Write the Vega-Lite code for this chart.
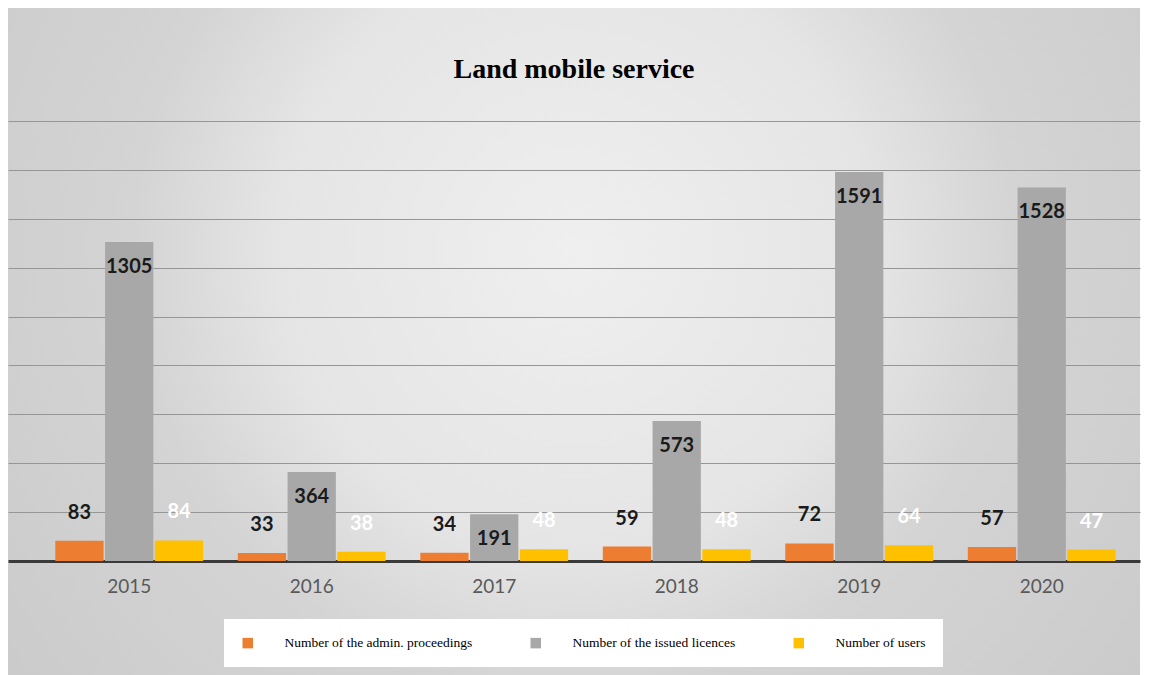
{
  "$schema": "https://vega.github.io/schema/vega-lite/v6.json",
  "width": 1132,
  "height": 667,
  "autosize": {"type": "none"},
  "padding": {"left": 8, "top": 8, "right": 9, "bottom": 0},
  "background": "#ffffff",
  "view": {
    "stroke": null,
    "fill": {
      "gradient": "radial",
      "x1": 0.5, "y1": 0.42, "r1": 0,
      "x2": 0.5, "y2": 0.42, "r2": 0.75,
      "stops": [
        {"offset": 0, "color": "#efefef"},
        {"offset": 0.35, "color": "#e5e5e5"},
        {"offset": 0.52, "color": "#d4d4d4"},
        {"offset": 1, "color": "#c6c6c6"}
      ]
    }
  },
  "title": {
    "text": "Land mobile service",
    "font": "Liberation Serif",
    "fontSize": 28,
    "fontWeight": "bold",
    "color": "#000000",
    "anchor": "middle",
    "offset": -76
  },
  "data": {
    "values": [
      {"year": "2015", "series": "Number of the admin. proceedings", "value": 83},
      {"year": "2015", "series": "Number of the issued licences", "value": 1305},
      {"year": "2015", "series": "Number of users", "value": 84},
      {"year": "2016", "series": "Number of the admin. proceedings", "value": 33},
      {"year": "2016", "series": "Number of the issued licences", "value": 364},
      {"year": "2016", "series": "Number of users", "value": 38},
      {"year": "2017", "series": "Number of the admin. proceedings", "value": 34},
      {"year": "2017", "series": "Number of the issued licences", "value": 191},
      {"year": "2017", "series": "Number of users", "value": 48},
      {"year": "2018", "series": "Number of the admin. proceedings", "value": 59},
      {"year": "2018", "series": "Number of the issued licences", "value": 573},
      {"year": "2018", "series": "Number of users", "value": 48},
      {"year": "2019", "series": "Number of the admin. proceedings", "value": 72},
      {"year": "2019", "series": "Number of the issued licences", "value": 1591},
      {"year": "2019", "series": "Number of users", "value": 64},
      {"year": "2020", "series": "Number of the admin. proceedings", "value": 57},
      {"year": "2020", "series": "Number of the issued licences", "value": 1528},
      {"year": "2020", "series": "Number of users", "value": 47}
    ]
  },
  "encoding": {
    "x": {
      "field": "year",
      "type": "nominal",
      "scale": {"paddingInner": 0.19, "paddingOuter": 0.1963, "align": 0.66},
      "axis": {
        "title": null,
        "orient": "bottom",
        "offset": -114,
        "labelAngle": 0,
        "ticks": false,
        "grid": false,
        "domainColor": "#3a3a3a",
        "domainWidth": 3,
        "labelFont": "Lato",
        "labelFontSize": 19,
        "labelColor": "#595959",
        "labelPadding": 16
      }
    },
    "xOffset": {
      "field": "series",
      "type": "nominal",
      "scale": {
        "domain": ["Number of the admin. proceedings", "Number of the issued licences", "Number of users"],
        "paddingInner": 0.03,
        "paddingOuter": 0
      }
    },
    "y": {
      "field": "value",
      "type": "quantitative",
      "stack": null,
      "scale": {"domain": [-466.4, 2262.3], "nice": false, "zero": false},
      "axis": {
        "title": null,
        "values": [200, 400, 600, 800, 1000, 1200, 1400, 1600, 1800],
        "grid": true,
        "labels": false,
        "ticks": false,
        "domain": false,
        "gridColor": "#969696",
        "gridWidth": 1
      }
    }
  },
  "layer": [
    {
      "mark": {"type": "bar"},
      "encoding": {
        "color": {
          "field": "series",
          "type": "nominal",
          "scale": {
            "domain": ["Number of the admin. proceedings", "Number of the issued licences", "Number of users"],
            "range": ["#ED7D31", "#A8A8A8", "#FFC000"]
          },
          "legend": {
            "orient": "none",
            "legendX": 216,
            "legendY": 611,
            "direction": "horizontal",
            "title": null,
            "fillColor": "#ffffff",
            "padding": 17,
            "symbolType": "square",
            "symbolSize": 110,
            "symbolStrokeWidth": 0,
            "labelFont": "Liberation Serif",
            "labelFontSize": 13.5,
            "labelColor": "#000000",
            "labelOffset": 30,
            "columnPadding": 56,
            "labelLimit": 400
          }
        }
      }
    },
    {
      "transform": [{"filter": "datum.series === 'Number of the issued licences'"}],
      "mark": {"type": "text", "dy": 25, "font": "Lato", "fontSize": 20, "fontWeight": "bold", "color": "#1a1a1a"},
      "encoding": {"text": {"field": "value", "type": "quantitative"}}
    },
    {
      "transform": [{"filter": "datum.series === 'Number of the admin. proceedings'"}],
      "mark": {"type": "text", "dy": -28, "font": "Lato", "fontSize": 20, "fontWeight": "bold", "color": "#1a1a1a"},
      "encoding": {"text": {"field": "value", "type": "quantitative"}}
    },
    {
      "transform": [{"filter": "datum.series === 'Number of users'"}],
      "mark": {"type": "text", "dy": -28, "font": "Lato", "fontSize": 20, "fontWeight": "bold", "color": "#ffffff"},
      "encoding": {"text": {"field": "value", "type": "quantitative"}}
    }
  ]
}
